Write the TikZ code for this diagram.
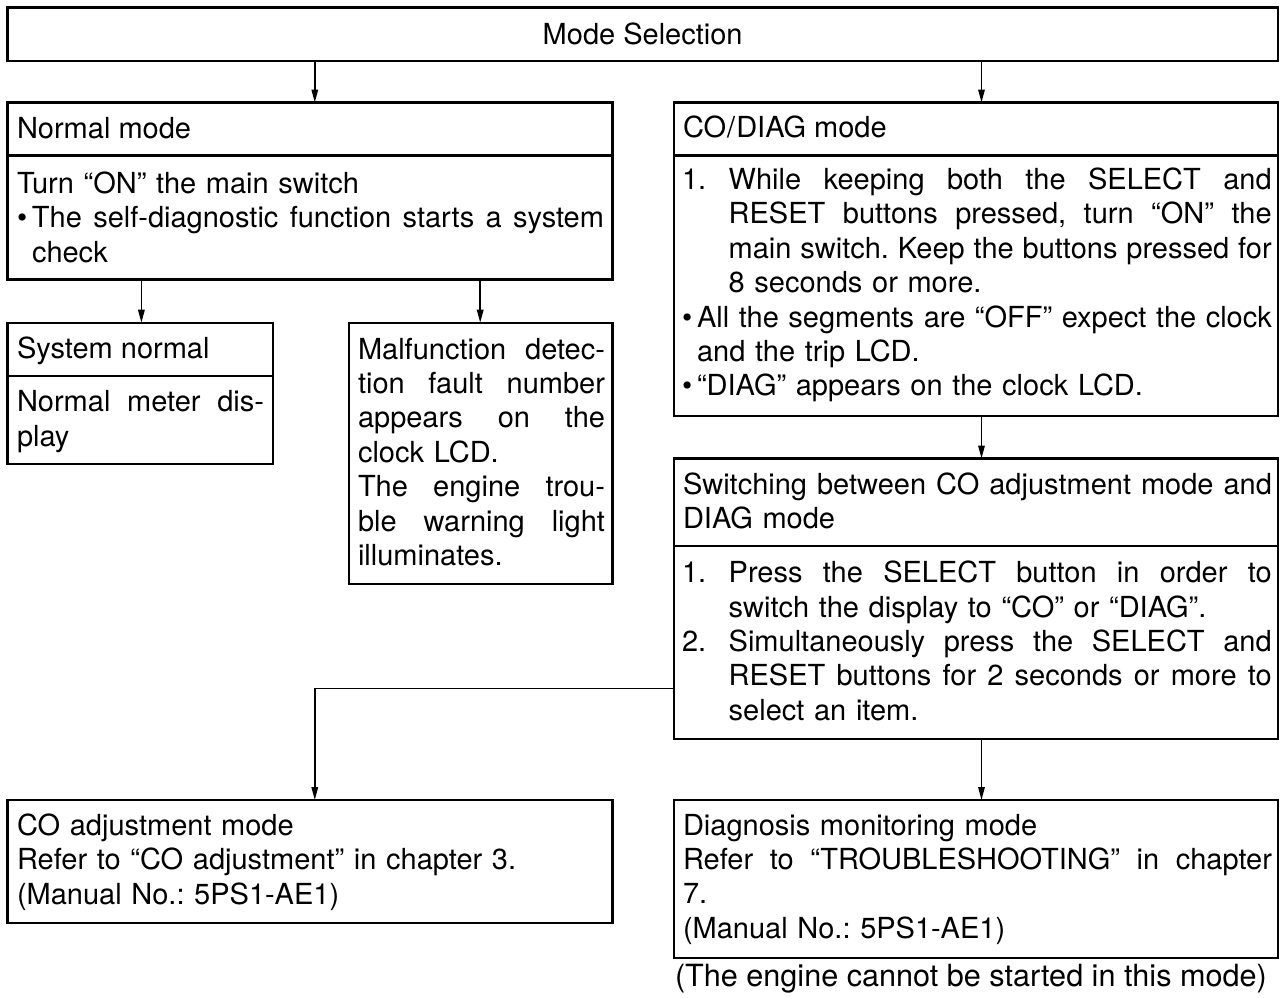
\documentclass[tikz,border=0pt]{standalone}
\usepackage{fontspec}
\setmainfont{TeX Gyre Heros}
\usetikzlibrary{arrows.meta}
\newcommand{\J}[2]{{\spaceskip=\fontdimen2\font plus 1fil\relax\xspaceskip=\spaceskip\makebox[#1][s]{#2}}}
\newcommand{\fs}{\fontsize{29}{34.4}\selectfont\frenchspacing}
\tikzset{
  box/.style={draw, line width=2.4pt, outer sep=0pt, inner sep=0pt, anchor=north west},
  txt/.style={anchor=base west, inner sep=0pt, outer sep=0pt, font=\fs},
  conn/.style={line width=1.6pt, -{Triangle[length=13pt,width=6.5pt]}},
  divline/.style={line width=2.4pt}
}
\begin{document}
\begin{tikzpicture}[x=1pt,y=1pt]
\fill[white] (0,0) rectangle (1283,-997);
% helper coordinates
\coordinate (xL) at (314.8,0);
\coordinate (xR) at (981.5,0);
\coordinate (xa) at (141.4,0);
\coordinate (xb) at (480.2,0);
\coordinate (yc) at (0,-688.3);
% boxes
\node[box, minimum width=1270.7pt, minimum height=53.7pt, font=\fs] (top) at (7.3,-7.3) {Mode Selection};
\node[box, minimum width=604.8pt, minimum height=176.8pt] (normal) at (7.6,-102.5) {};
\node[box, minimum width=265.1pt, minimum height=141.3pt] (sysn) at (7.6,-322.7) {};
\node[box, minimum width=263.4pt, minimum height=261.3pt] (malf) at (349,-322.7) {};
\node[box, minimum width=604pt, minimum height=313.5pt] (codiag) at (674,-102.5) {};
\node[box, minimum width=604pt, minimum height=280.3pt] (switch) at (674,-458.5) {};
\node[box, minimum width=604.8pt, minimum height=122.7pt] (coadj) at (7.6,-800) {};
\node[box, minimum width=604pt, minimum height=157.7pt] (diagn) at (674,-800) {};
% dividers
\coordinate (d1) at (0,-155.5);
\coordinate (d2) at (0,-376);
\coordinate (d3) at (0,-546);
\draw[divline] (normal.west |- d1) -- (normal.east |- d1);
\draw[divline] (codiag.west |- d1) -- (codiag.east |- d1);
\draw[divline] (sysn.west |- d2) -- (sysn.east |- d2);
\draw[divline] (switch.west |- d3) -- (switch.east |- d3);
% texts
\node[txt] (normal-t) at (17,-138) {Normal mode};
\node[txt, text width=587pt] (normal-b) at (17,-193.3) {Turn “ON” the main switch\\
\makebox[15pt][l]{•}\J{572pt}{The self-diagnostic function starts a system}\\
\hspace*{15pt}check};
\node[txt] (sysn-t) at (17,-358.3) {System normal};
\node[txt, text width=247pt] (sysn-b) at (17,-411.7) {\J{247pt}{Normal meter dis-}\\
play};
\node[txt, text width=247pt] (malf-b) at (358,-359) {\J{247pt}{Malfunction detec-}\\
\J{247pt}{tion fault number}\\
\J{247pt}{appears on the}\\
clock LCD.\\
\J{247pt}{The engine trou-}\\
\J{247pt}{ble warning light}\\
illuminates.};
\node[txt] (codiag-t) at (683,-137.5) {CO\kern1pt/\kern1pt DIAG mode};
\node[txt, text width=590pt] (codiag-b) at (682,-189.5) {\makebox[46.7pt][l]{1.}\J{543pt}{While keeping both the SELECT and}\\
\hspace*{46.7pt}\J{543pt}{RESET buttons pressed, turn “ON” the}\\
\hspace*{46.7pt}\J{543pt}{main switch. Keep the buttons pressed for}\\
\hspace*{46.7pt}8 seconds or more.\\
\makebox[15pt][l]{•}\J{575pt}{All the segments are “OFF” expect the clock}\\
\hspace*{15pt}and the trip LCD.\\
\makebox[15pt][l]{•}“DIAG” appears on the clock LCD.};
\node[txt, text width=590pt] (switch-t) at (683,-494.3) {\J{589pt}{Switching between CO adjustment mode and}\\
DIAG mode};
\node[txt, text width=590pt] (switch-b) at (682,-582.7) {\makebox[46.7pt][l]{1.}\J{543pt}{Press the SELECT button in order to}\\
\hspace*{46.7pt}switch the display to “CO” or “DIAG”.\\
\makebox[46.7pt][l]{2.}\J{543pt}{Simultaneously press the SELECT and}\\
\hspace*{46.7pt}\J{543pt}{RESET buttons for 2 seconds or more to}\\
\hspace*{46.7pt}select an item.};
\node[txt, text width=587pt] (coadj-b) at (17,-835.5) {CO adjustment mode\\
Refer to “CO adjustment” in chapter 3.\\
(Manual No.: 5PS1-AE1)};
\node[txt, text width=590pt] (diagn-b) at (683,-835) {Diagnosis monitoring mode\\
\J{589pt}{Refer to “TROUBLESHOOTING” in chapter}\\
7.\\
(Manual No.: 5PS1-AE1)};
\node[txt, font=\fontsize{30.6}{34.4}\selectfont] (note) at (675,-986) {(The engine cannot be started in this mode)};
% connectors
\draw[conn] (top.south -| xL) -- (normal.north -| xL);
\draw[conn] (top.south -| xR) -- (codiag.north -| xR);
\draw[conn] (normal.south -| xa) -- (sysn.north -| xa);
\draw[conn] (normal.south -| xb) -- (malf.north -| xb);
\draw[conn] (codiag.south -| xR) -- (switch.north -| xR);
\draw[conn] (switch.south -| xR) -- (diagn.north -| xR);
\draw[conn] (switch.west |- yc) -- (xL |- yc) -- (coadj.north -| xL);
\end{tikzpicture}
\end{document}
